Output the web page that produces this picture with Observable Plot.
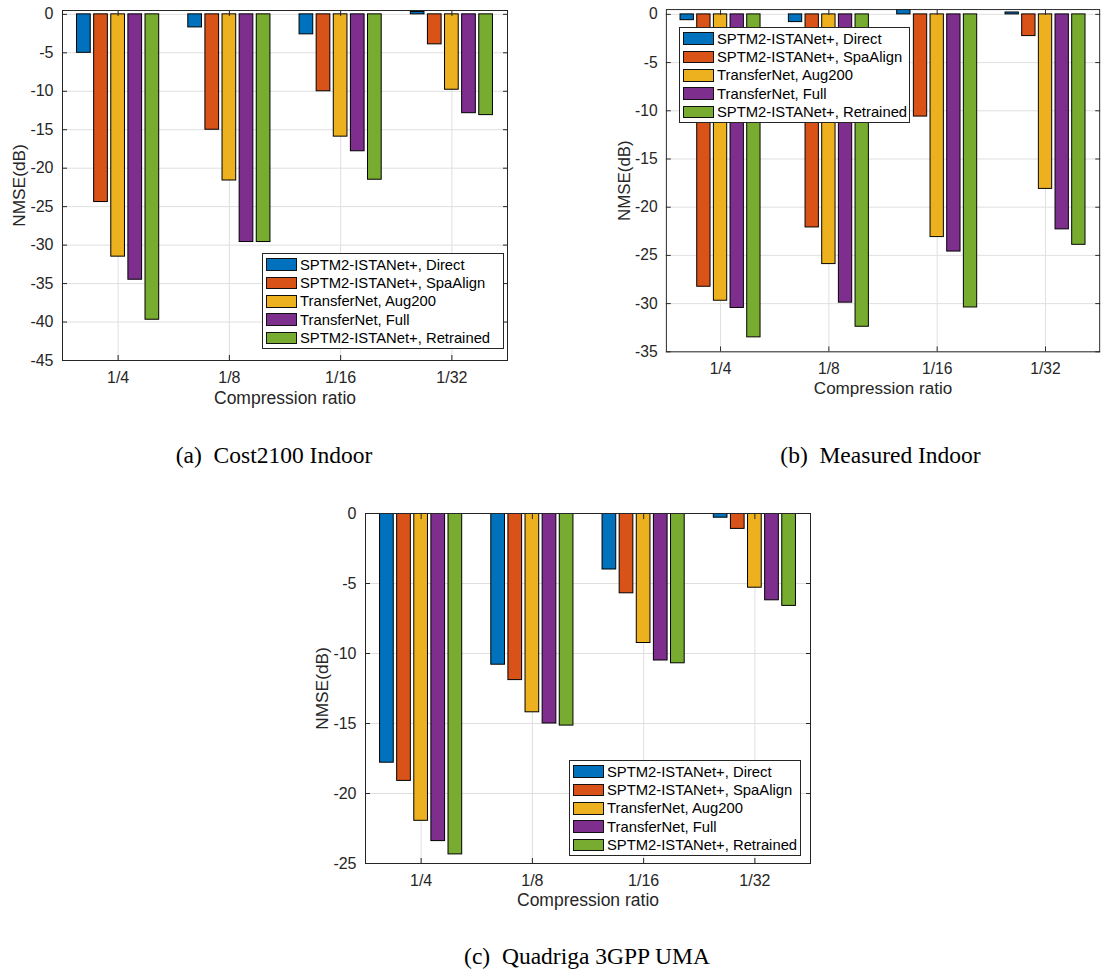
<!DOCTYPE html>
<html>
<head>
<meta charset="utf-8">
<script src="https://cdn.jsdelivr.net/npm/d3@7"></script>
<script src="https://cdn.jsdelivr.net/npm/@observablehq/plot@0.6"></script>
<style>
html,body{margin:0;padding:0;background:#fff;}
#page{position:relative;width:1107px;height:971px;overflow:hidden;font-family:"Liberation Sans",Arial,sans-serif;}
.panel{position:absolute;}
.legend{position:absolute;background:#fff;border:1px solid #262626;box-sizing:border-box;}
.row{position:absolute;left:0;height:18px;display:flex;align-items:center;font-size:14.8px;color:#000;white-space:nowrap;}
.sw{display:inline-block;width:31px;height:12.5px;border:1px solid #111;box-sizing:border-box;margin-left:3px;margin-right:3px;}
.cap{position:absolute;font-family:"Liberation Serif","Times New Roman",serif;font-size:23.5px;line-height:1;white-space:pre;transform:translateX(-50%);color:#000;}
</style>
</head>
<body>
<div id="page"></div>
<script>
// ---- data ----
const categories = ["1/4", "1/8", "1/16", "1/32"];
const series = [
  "SPTM2-ISTANet+, Direct",
  "SPTM2-ISTANet+, SpaAlign",
  "TransferNet, Aug200",
  "TransferNet, Full",
  "SPTM2-ISTANet+, Retrained"
];
const colors = ["#0072BD", "#D95319", "#EDB120", "#7E2F8E", "#77AC30"];

// rows: series, columns: categories
const cost2100Indoor = [
  [-5.0, -1.7, -2.6, 0.3],
  [-24.4, -15.0, -10.0, -3.9],
  [-31.5, -21.6, -15.9, -9.8],
  [-34.5, -29.6, -17.8, -12.85],
  [-39.7, -29.6, -21.5, -13.1]
];
const measuredIndoor = [
  [-0.6, -0.8, 0.5, 0.2],
  [-28.25, -22.1, -10.6, -2.25],
  [-29.7, -25.9, -23.1, -18.1],
  [-30.45, -29.9, -24.6, -22.3],
  [-33.5, -32.4, -30.4, -23.9]
];
const quadrigaUMA = [
  [-17.8, -10.8, -4.0, -0.3],
  [-19.1, -11.9, -5.7, -1.1],
  [-21.95, -14.2, -9.25, -5.3],
  [-23.4, -15.0, -10.5, -6.2],
  [-24.35, -15.15, -10.7, -6.6]
];
const ticksA = [-45, -40, -35, -30, -25, -20, -15, -10, -5, 0];
const ticksB = [-35, -30, -25, -20, -15, -10, -5, 0];
const ticksC = [-25, -20, -15, -10, -5, 0];
const captions = ["(a)\u2002Cost2100 Indoor", "(b)\u2002Measured Indoor", "(c)\u2002Quadriga 3GPP UMA"];

// ---- drawing ----
const page = document.getElementById("page");
const axisColor = "#262626";
const gridColor = "#dfdfdf";

function chart(values, yDomain, yTicks, w, h, m, labelDy) {
  const rows = [];
  values.forEach((vals, si) => vals.forEach((v, ci) => rows.push({ci, si, series: series[si], value: v})));
  const n = series.length;
  const groupWidth = Math.min(0.8, n / (n + 1.5));
  const slot = groupWidth / n;
  const barW = slot * 0.8;
  const center = d => d.ci + 1 + (d.si - (n - 1) / 2) * slot;
  const xTicks = categories.map((c, i) => i + 1);
  return Plot.plot({
    width: w, height: h,
    marginLeft: m[0], marginRight: m[1], marginTop: m[2], marginBottom: m[3],
    x: {type: "linear", domain: [0.5, categories.length + 0.5], label: null},
    y: {domain: yDomain, label: null},
    color: {domain: series, range: colors},
    style: {fontFamily: '"Liberation Sans", Arial, sans-serif', fontSize: "16px", color: axisColor, background: "transparent", overflow: "visible"},
    marks: [
      Plot.gridX(xTicks, {stroke: gridColor, strokeOpacity: 1}),
      Plot.gridY(yTicks, {stroke: gridColor, strokeOpacity: 1}),
      Plot.rect(rows, {
        x1: d => center(d) - barW / 2,
        x2: d => center(d) + barW / 2,
        y1: 0, y2: "value",
        fill: "series", stroke: "#000", strokeWidth: 1, clip: true
      }),
      Plot.frame({stroke: axisColor, strokeWidth: 1}),
      Plot.axisX(xTicks, {anchor: "bottom", tickSize: -5, tickPadding: 16, tickFormat: i => categories[i - 1], stroke: axisColor, fill: axisColor, fontSize: 16}),
      Plot.axisX(xTicks, {anchor: "top", tickSize: -5, tickFormat: () => "", stroke: axisColor}),
      Plot.axisY(yTicks, {anchor: "left", tickSize: -5, tickPadding: 14, tickFormat: d => String(d), stroke: axisColor, fill: axisColor, fontSize: 16}),
      Plot.axisY(yTicks, {anchor: "right", tickSize: -5, tickFormat: () => "", stroke: axisColor}),
      Plot.text(["NMSE(dB)"], {frameAnchor: "left", dx: -43, rotate: -90, textAnchor: "middle", lineAnchor: "middle", fontSize: 17.3, fill: axisColor}),
      Plot.text(["Compression ratio"], {frameAnchor: "bottom", dy: labelDy, textAnchor: "middle", lineAnchor: "middle", fontSize: 17.5, fill: axisColor})
    ]
  });
}

function panel(svg, left, top) {
  const d = document.createElement("div");
  d.className = "panel";
  d.style.left = left + "px";
  d.style.top = top + "px";
  d.appendChild(svg);
  page.appendChild(d);
}

function legend(left, top, width) {
  const box = document.createElement("div");
  box.className = "legend";
  box.style.left = left + "px";
  box.style.top = top + "px";
  box.style.width = width + "px";
  box.style.height = "96px";
  series.forEach((s, i) => {
    const r = document.createElement("div");
    r.className = "row";
    r.style.top = (1.5 + i * 18.4) + "px";
    const sw = document.createElement("span");
    sw.className = "sw";
    sw.style.background = colors[i];
    r.appendChild(sw);
    r.appendChild(document.createTextNode(s));
    box.appendChild(r);
  });
  page.appendChild(box);
}

function caption(text, cx, top) {
  const c = document.createElement("div");
  c.className = "cap";
  c.style.left = cx + "px";
  c.style.top = top + "px";
  c.textContent = text;
  page.appendChild(c);
}

panel(chart(cost2100Indoor, [-45, 0.5], ticksA, 520, 420, [62, 13, 10, 60], 38), 0, 0);
panel(chart(measuredIndoor, [-35, 0.5], ticksB, 540, 420, [88, 8, 9.3, 60], 38), 580, 0);
panel(chart(quadrigaUMA, [-25, 0], ticksC, 520, 420, [65, 10, 10, 60], 37), 300, 503);

legend(262, 253, 242);
legend(679, 27, 231);
legend(569, 760, 232);

caption(captions[0], 274, 444);
caption(captions[1], 880.5, 444);
caption(captions[2], 587, 945);
</script>
</body>
</html>
